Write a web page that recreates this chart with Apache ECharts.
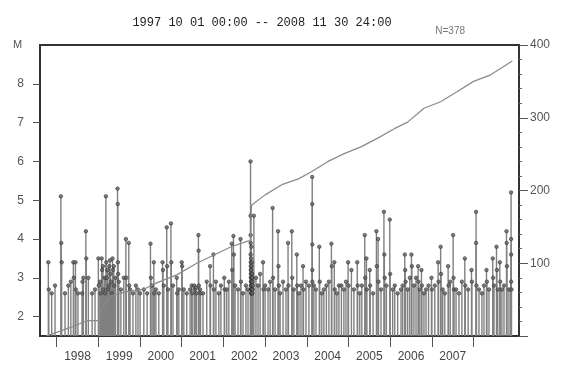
<!DOCTYPE html>
<html>
<head>
<meta charset="utf-8">
<script src="https://cdn.jsdelivr.net/npm/echarts@6/dist/echarts.min.js"></script>
<style>
  html, body { margin: 0; padding: 0; background: #fff; }
  #chart { width: 566px; height: 367px; }
</style>
</head>
<body>
<div id="chart"></div>
<script>
// events: [decimal year, magnitude]
const events = [
  [1997.80, 3.4], [1997.81, 2.7], [1997.88, 2.6], [1997.96, 2.8],
  [1998.10, 5.1], [1998.11, 3.9], [1998.12, 3.4], [1998.20, 2.6], [1998.28, 2.8],
  [1998.34, 2.9], [1998.40, 3.4], [1998.41, 3.0], [1998.45, 3.4], [1998.46, 2.7],
  [1998.51, 2.6], [1998.61, 2.6], [1998.62, 2.9], [1998.64, 3.0], [1998.70, 4.2],
  [1998.71, 3.5], [1998.76, 3.0], [1998.85, 2.6], [1998.92, 2.7],
  [1999.00, 3.5], [1999.01, 2.8], [1999.04, 2.9], [1999.05, 2.6], [1999.08, 3.5],
  [1999.09, 3.2], [1999.11, 3.3], [1999.12, 2.7], [1999.15, 3.0], [1999.16, 2.6],
  [1999.18, 5.1], [1999.19, 3.4], [1999.20, 3.0], [1999.22, 3.2], [1999.23, 2.7],
  [1999.25, 2.8], [1999.26, 3.3], [1999.28, 3.45], [1999.29, 3.1], [1999.31, 2.9],
  [1999.32, 2.6], [1999.34, 3.5], [1999.35, 3.2], [1999.37, 3.3], [1999.38, 2.8],
  [1999.41, 3.0], [1999.46, 5.3], [1999.465, 4.9], [1999.47, 3.4], [1999.475, 3.1],
  [1999.49, 2.9], [1999.54, 2.7], [1999.61, 3.0], [1999.66, 4.0], [1999.67, 3.0],
  [1999.73, 3.9], [1999.74, 2.8], [1999.76, 2.7], [1999.83, 2.6], [1999.90, 2.8],
  [1999.95, 2.7],
  [2000.00, 2.6], [2000.09, 2.7], [2000.17, 2.6], [2000.25, 3.88], [2000.26, 3.0],
  [2000.29, 2.8], [2000.33, 3.4], [2000.34, 2.6], [2000.38, 2.7], [2000.45, 2.6],
  [2000.54, 3.4], [2000.55, 3.2], [2000.57, 2.8], [2000.64, 4.3], [2000.65, 3.3],
  [2000.67, 2.7], [2000.74, 4.4], [2000.75, 3.4], [2000.79, 2.8], [2000.88, 3.0],
  [2000.89, 2.6], [2000.93, 2.7], [2001.00, 3.4], [2001.01, 3.3],
  [2001.05, 2.7], [2001.12, 2.6], [2001.20, 2.7], [2001.24, 2.8], [2001.25, 2.6],
  [2001.30, 2.8], [2001.31, 2.7], [2001.34, 2.75], [2001.35, 2.6], [2001.40, 4.1],
  [2001.405, 3.7], [2001.41, 2.8], [2001.44, 2.7], [2001.45, 2.6], [2001.51, 2.6],
  [2001.60, 2.9], [2001.68, 3.3], [2001.69, 2.8], [2001.76, 3.6], [2001.77, 2.7],
  [2001.82, 2.9], [2001.89, 2.6], [2001.94, 2.8], [2002.02, 3.0], [2002.03, 2.7],
  [2002.08, 2.7], [2002.13, 2.9], [2002.20, 3.88], [2002.21, 3.2], [2002.24, 4.08],
  [2002.25, 3.6], [2002.28, 2.8], [2002.35, 2.7], [2002.41, 4.0], [2002.42, 2.9],
  [2002.47, 2.6], [2002.54, 2.8], [2002.59, 2.7],
  [2002.650, 6.0], [2002.651, 4.6], [2002.652, 4.1], [2002.653, 3.9], [2002.654, 3.6],
  [2002.655, 3.4], [2002.656, 3.3], [2002.657, 3.2], [2002.658, 3.1], [2002.659, 3.0],
  [2002.660, 2.9], [2002.661, 2.8], [2002.662, 3.5], [2002.663, 2.7], [2002.664, 3.0],
  [2002.665, 2.6], [2002.666, 3.2], [2002.667, 2.8], [2002.668, 2.7], [2002.669, 3.8],
  [2002.670, 2.9], [2002.671, 2.6], [2002.672, 3.1], [2002.673, 2.7], [2002.674, 2.8],
  [2002.675, 3.3], [2002.676, 2.6], [2002.677, 2.9], [2002.678, 2.7], [2002.679, 3.0],
  [2002.680, 2.8], [2002.681, 2.6], [2002.682, 3.4], [2002.683, 2.7], [2002.684, 2.9],
  [2002.685, 2.6], [2002.686, 3.1], [2002.688, 2.8], [2002.690, 2.7], [2002.692, 3.0],
  [2002.694, 2.6], [2002.696, 2.9], [2002.698, 2.7], [2002.700, 2.8], [2002.73, 4.6],
  [2002.78, 3.0], [2002.83, 2.8], [2002.88, 3.1], [2002.95, 3.4], [2002.96, 2.7],
  [2003.00, 2.8], [2003.07, 2.7], [2003.12, 2.9], [2003.18, 4.8], [2003.19, 3.0],
  [2003.24, 2.7], [2003.31, 4.2], [2003.32, 3.3], [2003.33, 2.8], [2003.36, 2.6],
  [2003.43, 2.9], [2003.50, 2.7], [2003.55, 3.9], [2003.56, 2.8], [2003.64, 4.2],
  [2003.65, 3.0], [2003.69, 2.7], [2003.76, 3.6], [2003.77, 2.8], [2003.81, 2.6],
  [2003.86, 2.8], [2003.91, 3.3], [2003.92, 2.7], [2003.98, 2.9],
  [2004.05, 2.8], [2004.13, 5.6], [2004.131, 4.9], [2004.132, 3.86], [2004.133, 3.2],
  [2004.134, 2.9], [2004.17, 2.8], [2004.22, 2.7], [2004.30, 3.8], [2004.31, 2.9],
  [2004.36, 2.6], [2004.41, 2.7], [2004.47, 2.8], [2004.53, 2.9], [2004.59, 3.88],
  [2004.60, 3.3], [2004.66, 3.4], [2004.67, 2.7], [2004.72, 2.6], [2004.77, 2.8],
  [2004.83, 2.8], [2004.89, 2.7], [2004.94, 2.9], [2004.99, 3.4], [2005.00, 2.8],
  [2005.07, 3.2], [2005.13, 2.7], [2005.21, 3.4], [2005.22, 2.8], [2005.27, 2.6],
  [2005.32, 2.8], [2005.39, 4.1], [2005.40, 3.0], [2005.43, 3.5], [2005.44, 2.7],
  [2005.51, 3.2], [2005.52, 2.8], [2005.59, 2.6], [2005.67, 4.2], [2005.68, 3.3],
  [2005.71, 4.0], [2005.72, 2.9], [2005.78, 2.7], [2005.85, 4.7], [2005.86, 3.6],
  [2005.87, 3.0], [2005.91, 2.8], [2005.99, 4.5], [2006.00, 3.1],
  [2006.06, 2.7], [2006.11, 2.8], [2006.18, 2.6], [2006.26, 2.7], [2006.30, 2.8],
  [2006.35, 3.6], [2006.36, 3.2], [2006.37, 2.9], [2006.42, 2.7], [2006.47, 3.0],
  [2006.51, 3.6], [2006.52, 3.3], [2006.57, 2.8], [2006.62, 3.0], [2006.67, 3.3],
  [2006.68, 2.9], [2006.71, 2.7], [2006.75, 3.2], [2006.76, 2.8], [2006.81, 2.6],
  [2006.86, 2.7], [2006.92, 2.8], [2006.99, 3.0], [2007.00, 2.7],
  [2007.07, 2.8], [2007.15, 3.4], [2007.16, 2.9], [2007.21, 3.8], [2007.22, 3.1],
  [2007.26, 2.7], [2007.31, 2.6], [2007.39, 3.3], [2007.40, 2.8], [2007.44, 2.9],
  [2007.51, 4.1], [2007.52, 3.0], [2007.53, 2.7], [2007.58, 2.7], [2007.65, 2.6],
  [2007.72, 2.9], [2007.79, 3.5], [2007.80, 2.8], [2007.87, 2.7], [2007.95, 3.2],
  [2007.96, 2.9],
  [2008.06, 4.7], [2008.061, 3.9], [2008.07, 2.8], [2008.13, 2.7], [2008.20, 2.6],
  [2008.25, 2.8], [2008.31, 3.2], [2008.32, 2.9], [2008.37, 2.7], [2008.46, 3.5],
  [2008.47, 3.0], [2008.49, 2.8], [2008.55, 3.8], [2008.56, 3.2], [2008.58, 2.7],
  [2008.63, 3.4], [2008.64, 2.9], [2008.68, 2.7], [2008.73, 2.8], [2008.79, 4.2],
  [2008.795, 3.9], [2008.80, 3.3], [2008.85, 2.7], [2008.90, 5.2], [2008.901, 4.0],
  [2008.902, 3.6], [2008.903, 2.9], [2008.91, 2.7]
];

// cumulative number of events (right axis)
const cumYears = [1997.75, 1998.15, 1998.39, 1998.72, 1999.00, 1999.06, 1999.28, 1999.68,
  2000.08, 2000.40, 2000.88, 2001.36, 2001.76, 2002.16, 2002.56, 2002.65, 2002.67, 2002.68,
  2003.00, 2003.40, 2003.80, 2004.12, 2004.51, 2004.91, 2005.30, 2005.70, 2006.10, 2006.42,
  2006.81, 2007.21, 2007.61, 2008.00, 2008.41, 2008.93];
const cumCount = [0, 8, 13, 21, 21, 35, 55, 61,
  64, 73, 84, 100, 111, 122, 130, 131, 176, 180,
  194, 208, 216, 226, 240, 251, 260, 272, 285, 294,
  313, 322, 336, 350, 359, 378];

const yearTicks = [1998, 1999, 2000, 2001, 2002, 2003, 2004, 2005, 2006, 2007, 2008];
const yearLabels = [1998, 1999, 2000, 2001, 2002, 2003, 2004, 2005, 2006, 2007];
const magTicks = [2, 3, 4, 5, 6, 7, 8];

const chart = echarts.init(document.getElementById('chart'), null, { renderer: 'canvas' });

const option = {
  animation: false,
  title: {
    text: '1997 10 01 00:00 -- 2008 11 30 24:00',
    left: 257,
    textAlign: 'center',
    top: 12,
    textStyle: { fontFamily: 'Liberation Mono', fontSize: 12, fontWeight: 'normal', color: '#222' }
  },
  graphic: [
    { type: 'text', left: 13, top: 39, style: { text: 'M', fontFamily: 'Liberation Sans', fontSize: 11, fill: '#555' } },
    { type: 'text', right: 566 - 465, top: 26, style: { text: 'N=378', fontFamily: 'Liberation Sans', fontSize: 10, fill: '#777', textAlign: 'right' } }
  ],
  grid: {
    left: 40, right: 47, top: 45, bottom: 31,
    show: true, borderColor: '#333', borderWidth: 2, backgroundColor: 'transparent'
  },
  xAxis: {
    type: 'value',
    min: 1997.6,
    max: 2009.09,
    axisLine: { lineStyle: { color: '#333', width: 1.5 } },
    axisTick: { customValues: yearTicks, length: 11, lineStyle: { color: '#555' } },
    axisLabel: {
      customValues: yearLabels.map(y => y + 0.5),
      formatter: v => String(Math.floor(v)),
      margin: 15,
      fontFamily: 'Liberation Sans', fontSize: 12, color: '#444'
    },
    splitLine: { show: false }
  },
  yAxis: [
    {
      type: 'value',
      min: 1.5,
      max: 9,
      startValue: 1.5,
      axisLine: { show: true, lineStyle: { color: '#333', width: 1.5 } },
      axisTick: { show: true, customValues: magTicks, length: 7, lineStyle: { color: '#555' } },
      axisLabel: { customValues: magTicks, margin: 16, fontFamily: 'Liberation Sans', fontSize: 12, color: '#555' },
      splitLine: { show: false }
    },
    {
      type: 'value',
      min: 0,
      max: 400,
      interval: 100,
      position: 'right',
      axisLine: { show: true, lineStyle: { color: '#333', width: 2 } },
      axisTick: { show: true, length: 9, lineStyle: { color: '#555' } },
      minorTick: { show: true, splitNumber: 5, length: 3, lineStyle: { color: '#666' } },
      axisLabel: { showMinLabel: false, margin: 11, fontFamily: 'Liberation Sans', fontSize: 12, color: '#555' },
      splitLine: { show: false }
    }
  ],
  series: [
    {
      name: 'stem',
      type: 'bar',
      yAxisIndex: 0,
      barWidth: 1.4,
      barGap: '-100%',
      clip: true,
      itemStyle: { color: '#808080' },
      data: events
    },
    {
      name: 'M',
      type: 'scatter',
      yAxisIndex: 0,
      symbol: 'circle',
      symbolSize: 3.5,
      itemStyle: { color: '#666', borderColor: '#333', borderWidth: 0.8 },
      data: events
    },
    {
      name: 'N',
      type: 'line',
      yAxisIndex: 1,
      showSymbol: false,
      lineStyle: { color: '#8a8a8a', width: 1.2 },
      data: cumYears.map((y, i) => [y, cumCount[i]])
    }
  ]
};

chart.setOption(option);
</script>
</body>
</html>
